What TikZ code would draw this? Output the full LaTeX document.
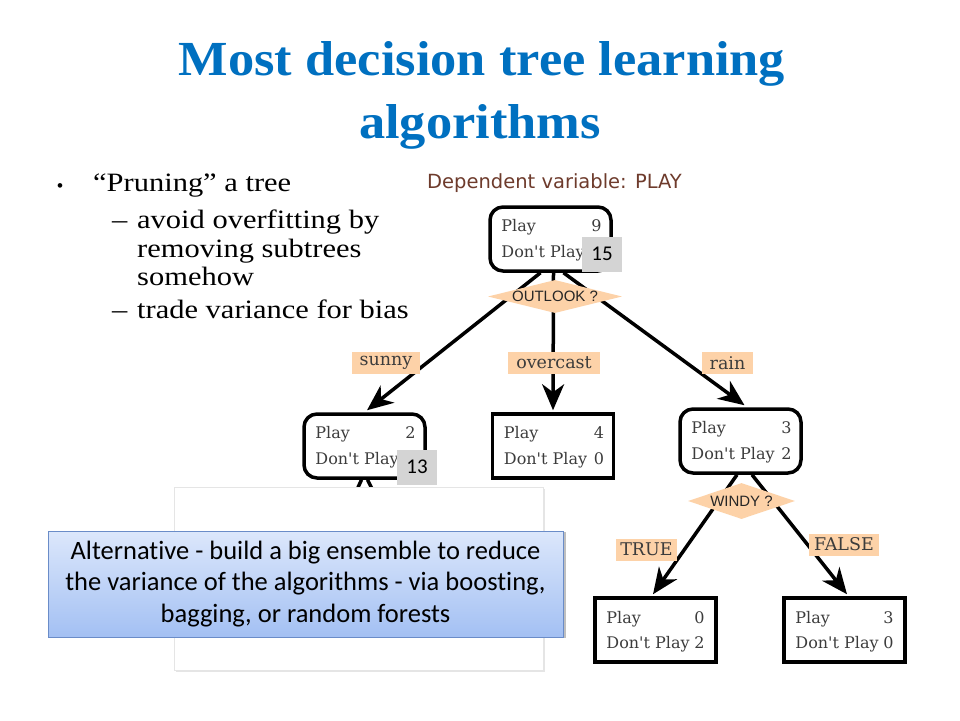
\documentclass[tikz,border=0pt]{standalone}
\usepackage{fontspec}
\usetikzlibrary{shapes.geometric,arrows.meta,calc}
\newfontfamily\titlef[FakeStretch=1.07]{Liberation Serif}
\newfontfamily\bodyf[FakeStretch=1.15]{Liberation Serif}
\newfontfamily\gillf[Ligatures=NoCommon]{Carlito}
\newfontfamily\treef{DejaVu Serif}
\newfontfamily\depf{DejaVu Sans}
\newfontfamily\helvf{Liberation Sans}
\definecolor{titleblue}{HTML}{0070C0}
\definecolor{peach}{HTML}{FDD2A8}
\definecolor{treegray}{HTML}{3C3C3C}
\definecolor{depbrown}{HTML}{6E3B2C}
\definecolor{boxtop}{HTML}{DCE7FB}
\definecolor{boxbot}{HTML}{A3C0F3}
\definecolor{boxedge}{HTML}{6A8CC8}
\begin{document}
\begin{tikzpicture}[x=1pt,y=-1pt,
 roundbox/.style={draw=black, line width=3.5pt, rounded corners=13pt, minimum width=121pt, minimum height=64pt, inner sep=0pt},
 sharpbox/.style={draw=black, line width=3.5pt, minimum width=121pt, minimum height=64pt, inner sep=0pt},
 cell/.style={font=\treef\fontsize{16}{18}\selectfont, text=treegray, inner sep=0pt},
 lbl/.style={fill=peach, font=\treef\fontsize{17.5}{20}\selectfont, text=treegray, inner sep=0pt, minimum height=22pt},
 quest/.style={diamond, fill=peach, inner sep=0pt, font=\helvf\fontsize{15}{18}\selectfont, text=black!85},
 edge/.style={line width=3.5pt, -{Stealth[length=26pt,width=22pt,inset=8pt]}},
 numbox/.style={fill=black!17, font=\gillf\fontsize{21}{24}\selectfont, inner sep=0pt, minimum width=40pt, minimum height=35pt},
 bodytxt/.style={font=\bodyf\fontsize{26.5}{30}\selectfont, anchor=base west, inner sep=0pt},
]
\useasboundingbox (0,0) rectangle (960,720);
\fill[white] (0,0) rectangle (960,720);

% title
\node[font=\titlef\bfseries\fontsize{49}{56}\selectfont, text=titleblue, anchor=base, inner sep=0pt] (title1) at (482,75) {Most decision tree learning};
\node[font=\titlef\bfseries\fontsize{49}{56}\selectfont, text=titleblue, anchor=base, inner sep=0pt] (title2) at (480,138) {algorithms};

% bullets
\node[font=\helvf\fontsize{17}{18}\selectfont, anchor=base west, inner sep=0pt] (bul) at (57,191) {•};
\node[bodytxt] (b1) at (93,191) {“Pruning” a tree};
\node[bodytxt] (d1) at (112,228) {–};
\node[bodytxt] (t1) at (137,228) {avoid overfitting by};
\node[bodytxt] (t2) at (137,257) {removing subtrees};
\node[bodytxt] (t3) at (137,285) {somehow};
\node[bodytxt] (d4) at (112,318) {–};
\node[bodytxt] (t4) at (137,318) {trade variance for bias};

% tree
\node[font=\depf\fontsize{19.5}{22}\selectfont, text=depbrown, anchor=base west, inner sep=0pt] (dep) at (427,188) {Dependent variable: PLAY};

\node[roundbox] (root) at (550.5,239) {};
\node[roundbox] (sunny) at (364.5,446) {};
\node[sharpbox] (over) at (553,446) {};
\node[roundbox] (rain) at (740.5,441) {};
\node[sharpbox] (tleaf) at (655.5,630) {};
\node[sharpbox] (fleaf) at (844.5,630) {};

% counts
\node[cell, anchor=base west] (root-p) at ($(root.north west)+(13,26)$) {Play};
\node[cell, anchor=base east] (root-pn) at ($(root.north east)+(-11,26)$) {9};
\node[cell, anchor=base west] (root-d) at ($(root.north west)+(13,52)$) {Don't Play};

\node[cell, anchor=base west] (sunny-p) at ($(sunny.north west)+(13,26)$) {Play};
\node[cell, anchor=base east] (sunny-pn) at ($(sunny.north east)+(-11,26)$) {2};
\node[cell, anchor=base west] (sunny-d) at ($(sunny.north west)+(13,52)$) {Don't Play};

\node[cell, anchor=base west] (over-p) at ($(over.north west)+(13,26)$) {Play};
\node[cell, anchor=base east] (over-pn) at ($(over.north east)+(-11,26)$) {4};
\node[cell, anchor=base west] (over-d) at ($(over.north west)+(13,52)$) {Don't Play};
\node[cell, anchor=base east] (over-dn) at ($(over.north east)+(-11,52)$) {0};

\node[cell, anchor=base west] (rain-p) at ($(rain.north west)+(13,26)$) {Play};
\node[cell, anchor=base east] (rain-pn) at ($(rain.north east)+(-11,26)$) {3};
\node[cell, anchor=base west] (rain-d) at ($(rain.north west)+(13,52)$) {Don't Play};
\node[cell, anchor=base east] (rain-dn) at ($(rain.north east)+(-11,52)$) {2};

\node[cell, anchor=base west] (tleaf-p) at ($(tleaf.north west)+(13,27)$) {Play};
\node[cell, anchor=base east] (tleaf-pn) at ($(tleaf.north east)+(-13,27)$) {0};
\node[cell, anchor=base west] (tleaf-d) at ($(tleaf.north west)+(13,52)$) {Don't Play};
\node[cell, anchor=base east] (tleaf-dn) at ($(tleaf.north east)+(-13,52)$) {2};

\node[cell, anchor=base west] (fleaf-p) at ($(fleaf.north west)+(13,27)$) {Play};
\node[cell, anchor=base east] (fleaf-pn) at ($(fleaf.north east)+(-13,27)$) {3};
\node[cell, anchor=base west] (fleaf-d) at ($(fleaf.north west)+(13,52)$) {Don't Play};
\node[cell, anchor=base east] (fleaf-dn) at ($(fleaf.north east)+(-13,52)$) {0};

% edges
\draw[edge] ([xshift=-10pt]root.south) -- ([xshift=2.5pt,yshift=2pt]sunny.north);
\draw[edge] ([xshift=3pt]root.south) -- ([yshift=2pt]over.north);
\draw[edge] ([xshift=13pt]root.south) -- ([xshift=4pt,yshift=2pt]rain.north);
\draw[edge] ([xshift=-3.5pt]rain.south) -- ([xshift=-2.5pt,yshift=2pt]tleaf.north);
\draw[edge] ([xshift=11.5pt]rain.south) -- ([xshift=2.5pt,yshift=2pt]fleaf.north);
\coordinate (s1) at (350,505);
\coordinate (s2) at (380,505);
\draw[line width=3.5pt] ([xshift=-3pt]sunny.south) -- (s1);
\draw[line width=3.5pt] ([xshift=3pt]sunny.south) -- (s2);

% questions and labels
\node[quest, minimum width=134pt, minimum height=33pt, aspect=4] (outlook) at (555,296.5) {OUTLOOK ?};
\node[quest, minimum width=107pt, minimum height=36pt, aspect=3] (windy) at (741.5,501) {WINDY ?};
\node[lbl, minimum width=68pt] (lsunny) at (386,363) {sunny};
\node[lbl, minimum width=92pt] (lover) at (554,363) {overcast};
\node[lbl, minimum width=51pt] (lrain) at (727.5,363) {rain};
\node[lbl, minimum width=61pt] (ltrue) at (646.5,549.5) {TRUE};
\node[lbl, minimum width=70pt] (lfalse) at (844,544.5) {FALSE};

% grey number patches
\node[numbox] (n15) at (602,254) {15};
\node[numbox] (n13) at (417,467) {13};

% white picture frame
\fill[black!10] (176,489) rectangle (545,672);
\node[fill=white, draw=black!10, line width=0.6pt, minimum width=369pt, minimum height=183pt, inner sep=0pt] (frame) at (358.5,578.5) {};

% blue callout
\fill[black!25] (50.5,531.5) rectangle (565.5,637.5);
\node[top color=boxtop, bottom color=boxbot, draw=boxedge, line width=0.8pt, minimum width=515pt, minimum height=106pt, inner sep=0pt, align=center, font=\gillf\fontsize{26.5}{31.5}\selectfont] (alt) at (305.5,584) {Alternative - build a big ensemble to reduce\\the variance of the algorithms - via boosting,\\bagging, or random forests};
\end{tikzpicture}
\end{document}
